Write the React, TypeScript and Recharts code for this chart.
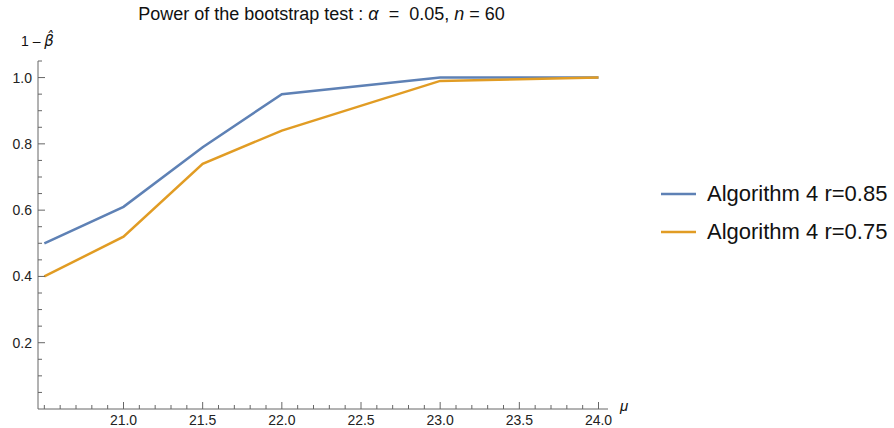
import React from 'react';
import { LineChart, Line, XAxis, YAxis } from 'recharts';

// mu values and estimated power for both settings
const mu = [20.5, 21.0, 21.5, 22.0, 23.0, 24.0];
const powerR085 = [0.5, 0.61, 0.79, 0.95, 1.0, 1.0];
const powerR075 = [0.4, 0.52, 0.74, 0.84, 0.99, 1.0];
const seriesNames = ['Algorithm 4 r=0.85', 'Algorithm 4 r=0.75'];

const xMajorTicks = [21.0, 21.5, 22.0, 22.5, 23.0, 23.5, 24.0];
const xAllTicks = [
  20.5, 20.6, 20.7, 20.8, 20.9, 21.0, 21.1, 21.2, 21.3, 21.4, 21.5, 21.6,
  21.7, 21.8, 21.9, 22.0, 22.1, 22.2, 22.3, 22.4, 22.5, 22.6, 22.7, 22.8,
  22.9, 23.0, 23.1, 23.2, 23.3, 23.4, 23.5, 23.6, 23.7, 23.8, 23.9, 24.0,
];
const yMajorTicks = [0.2, 0.4, 0.6, 0.8, 1.0];
const yAllTicks = [
  0.05, 0.1, 0.15, 0.2, 0.25, 0.3, 0.35, 0.4, 0.45, 0.5, 0.55, 0.6, 0.65,
  0.7, 0.75, 0.8, 0.85, 0.9, 0.95, 1.0, 1.05,
];

const BLUE = '#5E81B5';
const ORANGE = '#E19C24';
const AXIS = '#666666';
const FONT = '"Liberation Sans", Arial, sans-serif';

const data = mu.map((m, i) => ({ mu: m, a: powerR085[i], b: powerR075[i] }));

const isMajor = (list: number[], v: number) => list.some((m) => Math.abs(m - v) < 1e-6);

const XTick = (props: any) => {
  const { x, y, payload } = props;
  const major = isMajor(xMajorTicks, payload.value);
  return (
    <g>
      <line x1={x} x2={x} y1={y} y2={y - (major ? 7 : 4)} stroke={AXIS} strokeWidth={1} />
      {major && (
        <text x={x} y={y + 16} textAnchor="middle" fontSize={14} fill="#222" fontFamily={FONT}>
          {payload.value.toFixed(1)}
        </text>
      )}
    </g>
  );
};

const YTick = (props: any) => {
  const { x, y, payload } = props;
  const major = isMajor(yMajorTicks, payload.value);
  return (
    <g>
      <line x1={x} x2={x + (major ? 7 : 4)} y1={y} y2={y} stroke={AXIS} strokeWidth={1} />
      {major && (
        <text x={x - 6} y={y + 5} textAnchor="end" fontSize={14} fill="#222" fontFamily={FONT}>
          {payload.value.toFixed(1)}
        </text>
      )}
    </g>
  );
};

export default function App() {
  return (
    <div style={{ position: 'relative', width: 894, height: 428, background: '#fff' }}>
      <style>{'body{margin:0}'}</style>
      <div
        style={{
          position: 'absolute', left: 0, width: 643, top: 4, textAlign: 'center',
          fontFamily: FONT, fontSize: 18, color: '#111', whiteSpace: 'nowrap',
        }}
      >
        Power of the bootstrap test : <i>α</i> &nbsp;=&nbsp; 0.05, <i>n</i> = 60
      </div>
      <div style={{ position: 'absolute', left: 21, top: 32, fontFamily: FONT, fontSize: 14, color: '#111' }}>
        1 – <i style={{ fontFamily: '"DejaVu Sans", sans-serif', fontSize: 15 }}>{'\u03B2\u0302'}</i>
      </div>
      <div style={{ position: 'absolute', left: 620, top: 397, fontFamily: FONT, fontSize: 15, color: '#111' }}>
        <i>μ</i>
      </div>
      <div style={{ position: 'absolute', left: 661, top: 175, fontFamily: FONT }}>
        {seriesNames.map((name, i) => (
          <div key={name} style={{ display: 'flex', alignItems: 'center', height: 38 }}>
            <svg width={46} height={10}>
              <line x1={0} x2={35} y1={5} y2={5} stroke={i === 0 ? BLUE : ORANGE} strokeWidth={2.5} />
            </svg>
            <span style={{ fontSize: 22, color: '#111', whiteSpace: 'nowrap' }}>{name}</span>
          </div>
        ))}
      </div>
      <LineChart width={894} height={428} data={data} margin={{ top: 61, right: 286, bottom: 18, left: 37 }}>
        <XAxis
          dataKey="mu"
          type="number"
          domain={[20.46, 24.06]}
          ticks={xAllTicks}
          interval={0}
          height={1}
          tickSize={0}
          tickMargin={0}
          tickLine={false}
          axisLine={{ stroke: AXIS }}
          tick={<XTick />}
        />
        <YAxis
          type="number"
          domain={[0, 1.05]}
          ticks={yAllTicks}
          interval={0}
          width={1}
          tickSize={0}
          tickMargin={0}
          tickLine={false}
          axisLine={{ stroke: AXIS }}
          tick={<YTick />}
        />
        <Line dataKey="a" name={seriesNames[0]} stroke={BLUE} strokeWidth={2.5} dot={false} isAnimationActive={false} />
        <Line dataKey="b" name={seriesNames[1]} stroke={ORANGE} strokeWidth={2.5} dot={false} isAnimationActive={false} />
      </LineChart>
    </div>
  );
}
